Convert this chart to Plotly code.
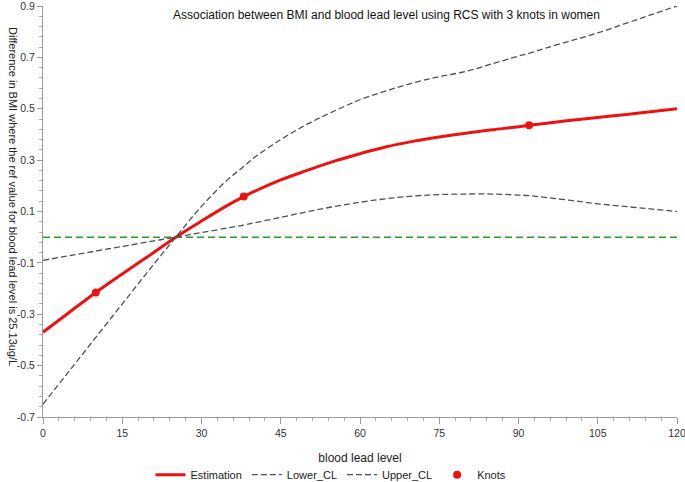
import plotly.graph_objects as go

x_vals = [0, 5, 10, 15, 20, 25.13, 30, 35, 38, 40, 45, 50, 55, 60, 65, 70, 75, 80, 85, 90, 92, 95, 100, 105, 110, 115, 120]
estimation = [-0.37, -0.292, -0.215, -0.143, -0.073, 0.0, 0.063, 0.125, 0.158, 0.178, 0.223, 0.26, 0.295, 0.325, 0.352, 0.373, 0.39, 0.405, 0.418, 0.43, 0.436, 0.443, 0.455, 0.466, 0.477, 0.488, 0.50]
upper_cl = [-0.65, -0.52, -0.39, -0.26, -0.13, 0.0, 0.12, 0.225, 0.275, 0.31, 0.38, 0.44, 0.49, 0.535, 0.57, 0.60, 0.625, 0.645, 0.675, 0.705, 0.716, 0.735, 0.765, 0.795, 0.83, 0.865, 0.9]
lower_cl = [-0.09, -0.072, -0.054, -0.036, -0.018, 0.0, 0.018, 0.036, 0.047, 0.056, 0.077, 0.099, 0.119, 0.136, 0.15, 0.16, 0.166, 0.168, 0.168, 0.164, 0.162, 0.155, 0.143, 0.13, 0.12, 0.11, 0.10]
knot_x = [10, 38, 92]
knot_y = [-0.215, 0.158, 0.436]
ref_x = [0, 120]
ref_y = [0, 0]
x_ticks = [0, 15, 30, 45, 60, 75, 90, 105, 120]
y_ticks = [-0.7, -0.5, -0.3, -0.1, 0.1, 0.3, 0.5, 0.7, 0.9]

FONT = "Liberation Sans, Arial, sans-serif"

fig = go.Figure()
fig.add_trace(go.Scatter(x=ref_x, y=ref_y, mode="lines", showlegend=False,
                         line=dict(color="#22a022", width=1.4, dash="7px,4px"), hoverinfo="skip"))
fig.add_trace(go.Scatter(x=x_vals, y=estimation, mode="lines", name="Estimation",
                         line=dict(color="#ee1111", width=3, shape="spline")))
fig.add_trace(go.Scatter(x=x_vals, y=lower_cl, mode="lines", name="Lower_CL",
                         line=dict(color="#505050", width=1.3, dash="6px,3px", shape="spline")))
fig.add_trace(go.Scatter(x=x_vals, y=upper_cl, mode="lines", name="Upper_CL",
                         line=dict(color="#505050", width=1.3, dash="6px,3px", shape="spline")))
fig.add_trace(go.Scatter(x=knot_x, y=knot_y, mode="markers", name="Knots",
                         marker=dict(color="#ee1111", size=8)))

fig.update_layout(
    width=685, height=482,
    margin=dict(l=43, r=8, t=6, b=65, autoexpand=False),
    paper_bgcolor="white", plot_bgcolor="white",
    font=dict(family=FONT, size=11, color="#222"),
    showlegend=True,
    legend=dict(orientation="h", x=(331 - 43) / 634, xanchor="center", y=-0.105, yanchor="top",
                font=dict(size=11, color="#222"), itemwidth=30, tracegroupgap=0),
)
fig.update_xaxes(
    range=[0, 120], tickvals=x_ticks, ticktext=[str(v) for v in x_ticks],
    showline=True, linecolor="#999", linewidth=1, mirror=False, automargin=False,
    ticks="outside", ticklen=6, tickcolor="#999", showgrid=False, zeroline=False,
    ticklabeloverflow="allow",
    minor=dict(dtick=3, tick0=0, ticks="outside", ticklen=3, tickcolor="#aaa", showgrid=False),
    tickfont=dict(size=10.5, color="#333"),
    title=dict(text="blood lead level", font=dict(size=12, color="#222"), standoff=16),
)
fig.update_yaxes(
    range=[-0.7, 0.9], tickvals=y_ticks, ticktext=[f"{v:.1f}" for v in y_ticks],
    showline=True, linecolor="#999", linewidth=1, automargin=False,
    ticks="outside", ticklen=5, tickcolor="#999", showgrid=False, zeroline=False,
    ticklabeloverflow="allow",
    minor=dict(dtick=0.04, tick0=-0.7, ticks="outside", ticklen=3, tickcolor="#aaa", showgrid=False),
    tickfont=dict(size=10.5, color="#333"),
)
fig.add_annotation(text="Association between BMI and blood lead level using RCS with 3 knots in women",
                   xref="paper", yref="paper", x=(386 - 43) / 634, y=1.0, yanchor="top", xanchor="center",
                   showarrow=False, font=dict(size=12, color="#111", family=FONT))
fig.add_annotation(text="Difference in BMI where the ref value for blood lead level is 25.13ug/L",
                   xref="paper", yref="paper", x=(13 - 43) / 634, y=(417 - 196) / 411,
                   xanchor="center", yanchor="middle", textangle=90,
                   showarrow=False, font=dict(size=11, color="#222", family=FONT))

fig.write_html("out.html", config={"displayModeBar": False},
               post_script="document.body.style.margin='0';document.body.style.overflow='hidden';")
